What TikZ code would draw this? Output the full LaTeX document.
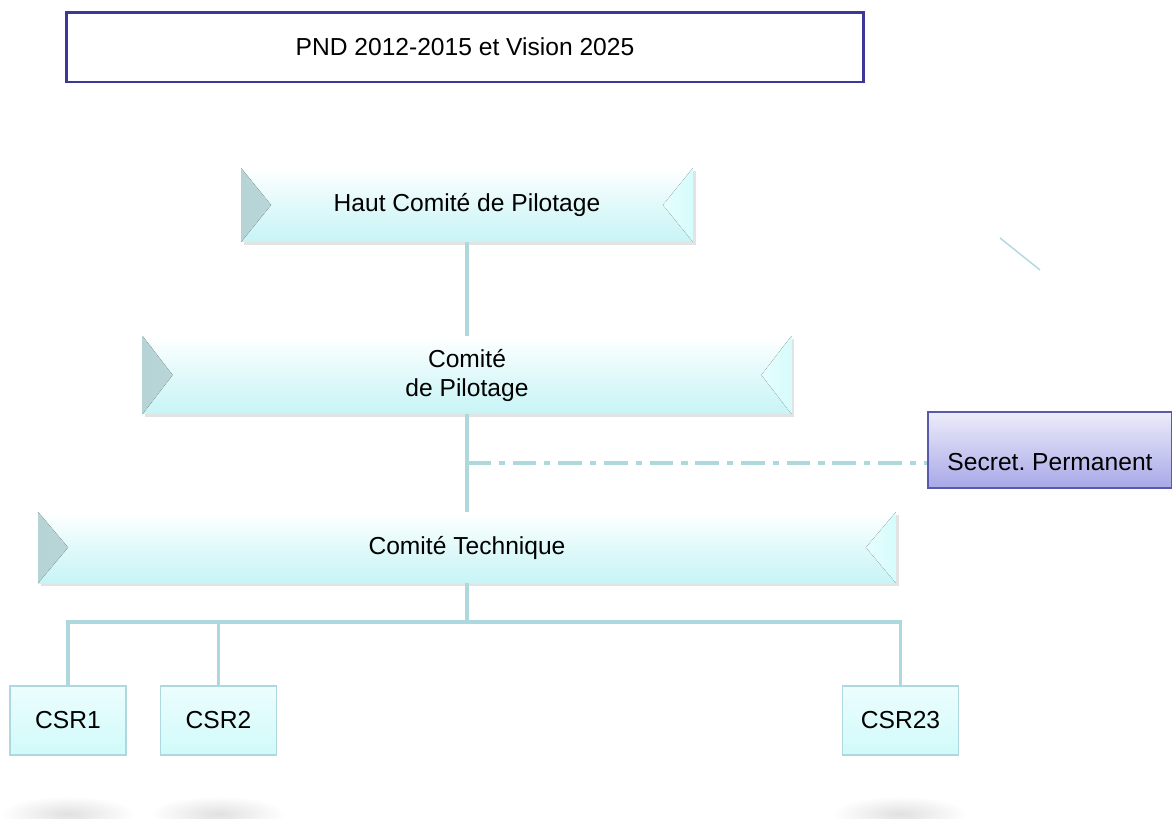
\documentclass[tikz,border=0pt]{standalone}
\usepackage{fontspec}
\setmainfont{Liberation Sans}
\usetikzlibrary{shadows}
\definecolor{bevcyan}{RGB}{200,244,246}
\definecolor{bevdark}{RGB}{182,212,214}
\definecolor{bevlight}{RGB}{224,247,247}
\definecolor{bevright}{RGB}{214,252,252}
\definecolor{linecyan}{RGB}{172,216,222}
\definecolor{pndblue}{RGB}{58,58,150}
\definecolor{secblue}{RGB}{90,90,170}
\definecolor{sectop}{RGB}{236,236,250}
\definecolor{secbot}{RGB}{168,168,232}
\definecolor{csrcyan}{RGB}{208,250,250}
\begin{document}
\begin{tikzpicture}[x=0.02cm,y=-0.02cm,
    every node/.style={font=\fontsize{14}{16.5}\selectfont},
    pnd/.style={rectangle, draw=pndblue, line width=1.7pt},
    bev/.style={rectangle, top color=white, bottom color=bevcyan, middle color=bevcyan!55,
        drop shadow={shadow xshift=0.3ex, shadow yshift=-0.35ex, opacity=0.22},
        path picture={
            \fill[left color=bevdark, right color=bevlight]
                (path picture bounding box.north west) -- ([xshift=0.6cm]path picture bounding box.west)
                -- (path picture bounding box.south west) -- cycle;
            \fill[left color=bevright!60!white, right color=bevright]
                (path picture bounding box.north east) -- ([xshift=-0.6cm]path picture bounding box.east)
                -- (path picture bounding box.south east) -- cycle;}},
    sec/.style={rectangle, draw=secblue, line width=0.9pt, top color=sectop, bottom color=secbot,
        text height=1cm, text depth=0.18cm},
    csr/.style={rectangle, draw=linecyan, line width=1pt, top color=csrcyan!40, bottom color=csrcyan,
        minimum width=2.32cm, minimum height=1.38cm},
    conn/.style={draw=linecyan, line width=2.2pt},
    ]
    \useasboundingbox (0,0) rectangle (1172,818);
    %Kopf
    \node[pnd, minimum width=15.96cm, minimum height=1.4cm] (pnd) at (465,47) {PND 2012-2015 et Vision 2025};
    %Komitees
    \node[bev, minimum width=9.04cm, minimum height=1.48cm] (hcp) at (467,205) {Haut Comité de Pilotage};
    \node[bev, minimum width=12.98cm, minimum height=1.56cm, align=center] (cp) at (467,375) {Comité\\de Pilotage};
    \node[bev, minimum width=17.16cm, minimum height=1.42cm] (ct) at (467,547.5) {Comité Technique};
    \node[sec, minimum width=4.88cm, minimum height=1.52cm] (sp) at (1050,450) {Secret.\ Permanent};
    %CSR
    \node[csr] (csr1) at (68,720.5) {CSR1};
    \node[csr] (csr2) at (218.5,720.5) {CSR2};
    \node[csr] (csr23) at (900.5,720.5) {CSR23};
    %Verbindungen
    \coordinate (dj) at (467,463);
    \coordinate (bus) at (467,622);
    \draw[conn] (hcp) -- (cp);
    \draw[conn] (cp) -- (ct);
    \draw[conn, line width=2pt, dash pattern=on 13.5pt off 4.5pt on 3.5pt off 4.5pt] (dj) -- (dj -| sp.west);
    \draw[conn] (ct) -- (bus);
    \draw[conn] (csr1) |- (bus) -| (csr23);
    \draw[conn] (csr2) -- (csr2 |- bus);
    %Rest
    \draw[linecyan, line width=0.8pt] (1000,238) -- (1040,270);
    \shade[inner color=black!12, outer color=white] (68,814) ellipse [x radius=1.35cm, y radius=0.36cm];
    \shade[inner color=black!12, outer color=white] (218,814) ellipse [x radius=1.35cm, y radius=0.36cm];
    \shade[inner color=black!12, outer color=white] (900,814) ellipse [x radius=1.35cm, y radius=0.36cm];
\end{tikzpicture}
\end{document}
